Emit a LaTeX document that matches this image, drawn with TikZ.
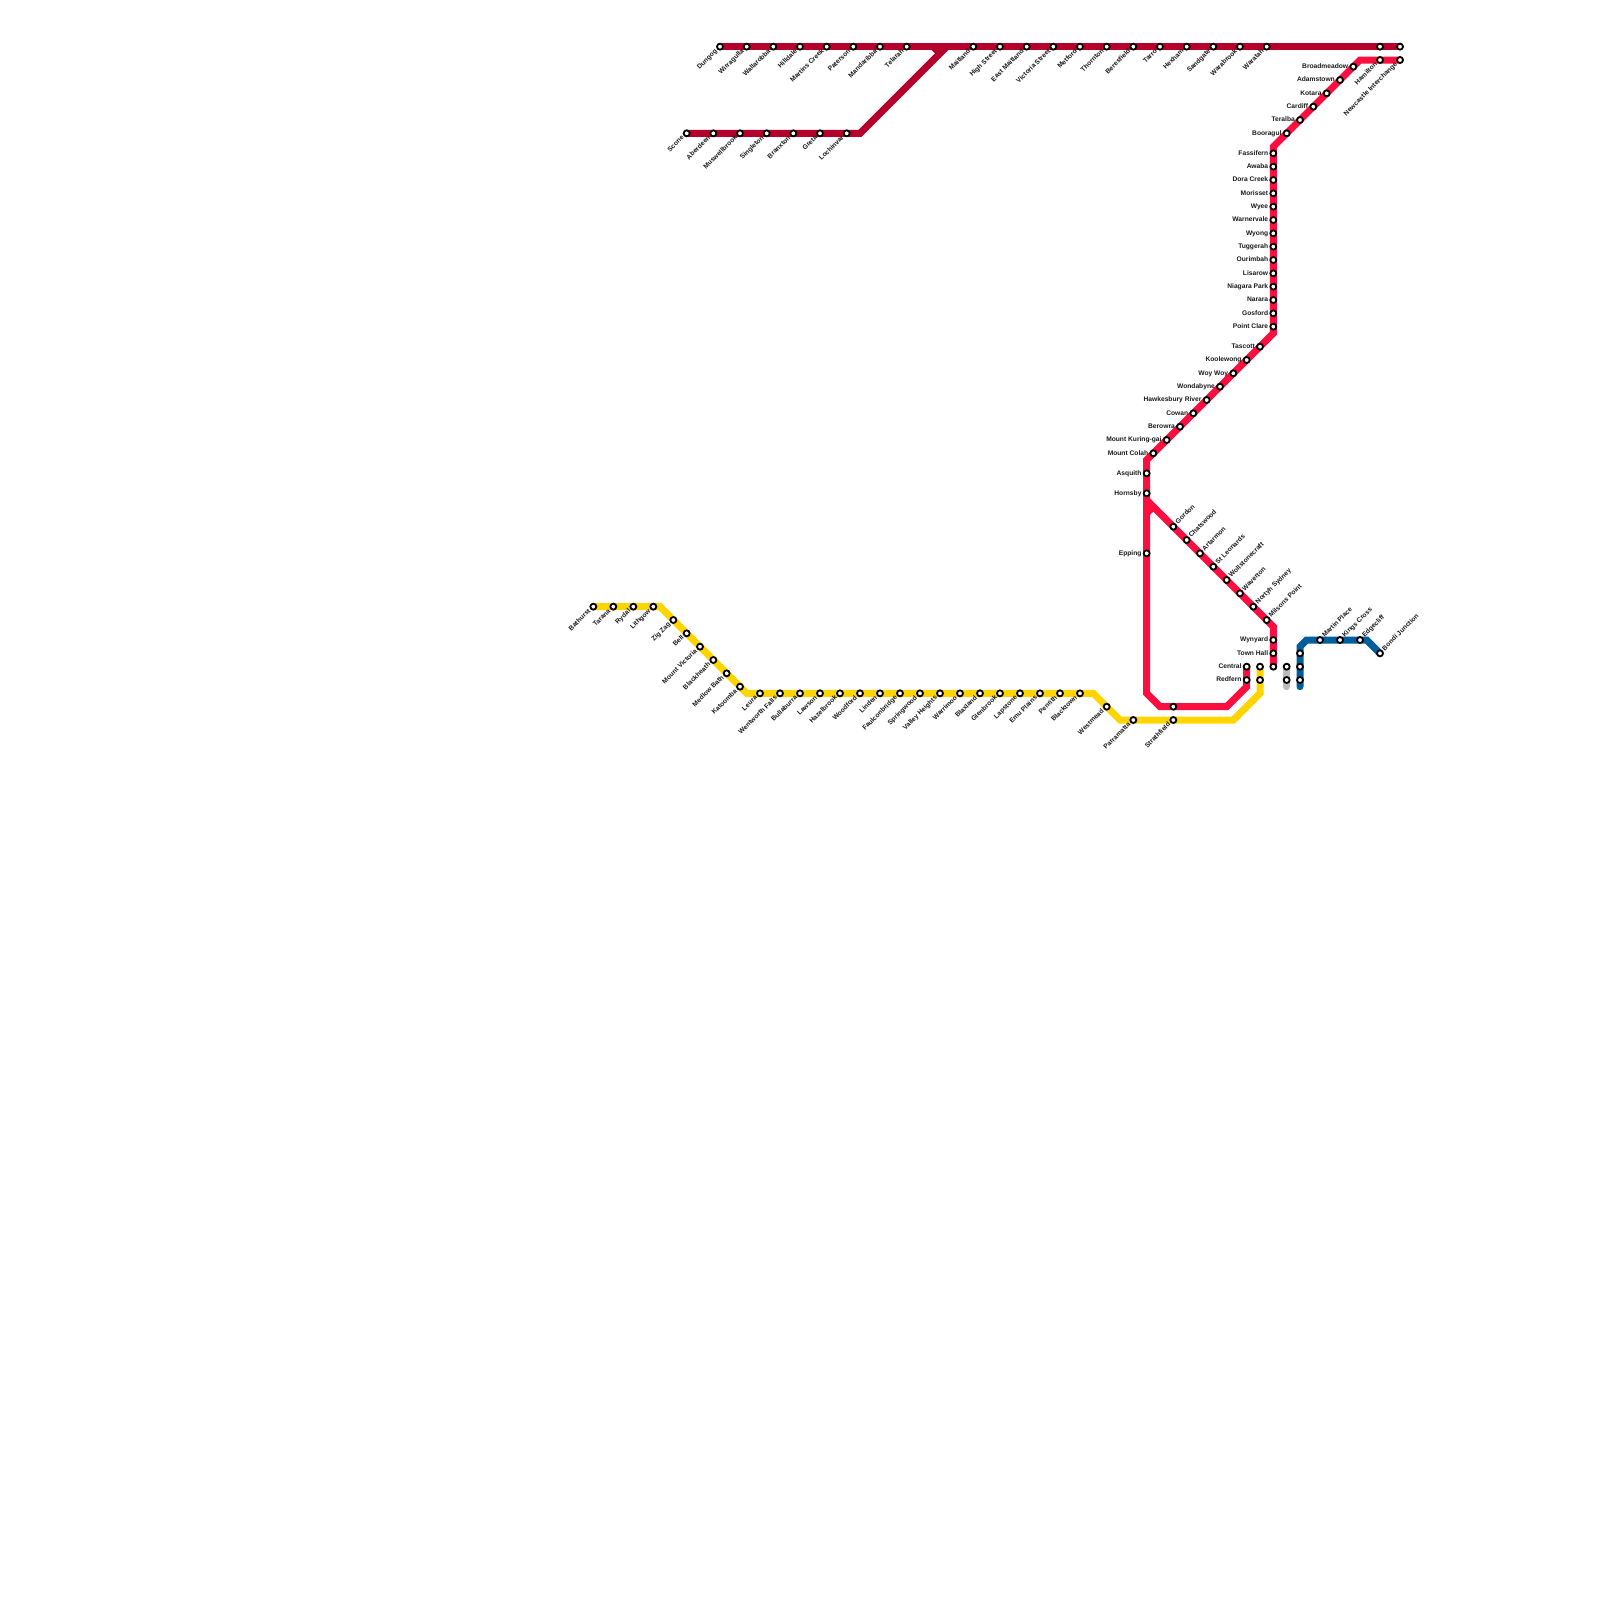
\documentclass[tikz,border=0pt]{standalone}
\usepackage{fontspec}
\setmainfont{Liberation Sans}
\usepackage{tikz}
\usetikzlibrary{backgrounds,calc}
\definecolor{hunter}{HTML}{B5002C}
\definecolor{coast}{HTML}{FB0F40}
\definecolor{blue}{HTML}{005E9C}
\definecolor{west}{HTML}{FFD500}
\definecolor{spare}{HTML}{BBBBBB}
\tikzset{
  stn/.style={circle,draw=black,fill=white,line width=1.8pt,minimum size=6pt,inner sep=0pt},
  txt/.style={font=\fontsize{6.67}{7}\selectfont\bfseries,text=black!90,inner sep=0pt,text height=5pt,text depth=1.5pt},
  lblsw/.style={txt,anchor=east,rotate=45},
  lblne/.style={txt,anchor=west,rotate=45},
  lblw/.style={txt,anchor=east},
  route/.style={line width=7pt,line cap=round}
}
\begin{document}
\begin{tikzpicture}[x=13.3333pt,y=-13.3333pt]
\useasboundingbox (0,0) rectangle (120,120);
% stations, labelled down-left
\foreach \n/\x/\y/\t in {dungog/54/3.5/Dungog,wirragulla/56/3.5/Wirragulla,wallarobba/58/3.5/Wallarobba,hilldale/60/3.5/Hilldale,
  martins/62/3.5/Martins Creek,paterson/64/3.5/Paterson,mandaribba/66/3.5/Mandaribba,telarah/68/3.5/Telarah,
  maitland/73/3.5/Maitland,highst/75/3.5/High Street,eastmait/77/3.5/East Maitland,victoria/79/3.5/Victoria Street,
  metford/81/3.5/Metford,thornton/83/3.5/Thornton,beresfield/85/3.5/Beresfield,tarro/87/3.5/Tarro,hexham/89/3.5/Hexham,
  sandgate/91/3.5/Sandgate,warabrook/93/3.5/Warabrook,waratah/95/3.5/Waratah,
  scone/51.5/10/Scone,aberdeen/53.5/10/Aberdeen,muswell/55.5/10/Muswellbrook,singleton/57.5/10/Singleton,
  branxton/59.5/10/Branxton,greta/61.5/10/Greta,lochinvar/63.5/10/Lochinvar,
  hamilton/103.5/4.5/Hamilton,newcastle/105/4.5/Newcastle Interchange,
  bathurst/44.5/45.5/Bathurst,tarana/46/45.5/Tarana,rydal/47.5/45.5/Rydal,lithgow/49/45.5/Lithgow,
  zigzag/50.5/46.5/Zig Zag,bell/51.5/47.5/Bell,mtvic/52.5/48.5/Mount Victoria,blackheath/53.5/49.5/Blackheath,
  medlow/54.5/50.5/Medlow Bath,katoomba/55.5/51.5/Katoomba,leura/57/52/Leura,wentworth/58.5/52/Wentworth Falls,
  bullaburra/60/52/Bullaburra,lawson/61.5/52/Lawson,hazelbrook/63/52/Hazelbrook,woodford/64.5/52/Woodford,
  linden/66/52/Linden,faulcon/67.5/52/Faulconbridge,springwood/69/52/Springwood,valley/70.5/52/Valley Heights,
  warrimoo/72/52/Warrimoo,blaxland/73.5/52/Blaxland,glenbrook/75/52/Glenbrook,lapstone/76.5/52/Lapstone,
  emu/78/52/Emu Plains,penrith/79.5/52/Penrith,blacktown/81/52/Blacktown,westmead/83/53/Westmead,
  parramatta/85/54/Parramatta,strathfield/88/54/Strathfield}{
  \node[stn] (\n) at (\x,\y) {};
  \node[lblsw] (\n-t) at ([shift={(-3.6pt,-3.6pt)}]\n.center) {\t};
}
% stations, labelled left
\foreach \n/\x/\y/\t in {fassifern/95.5/11.5/Fassifern,awaba/95.5/12.5/Awaba,dora/95.5/13.5/Dora Creek,morisset/95.5/14.5/Morisset,
  wyee/95.5/15.5/Wyee,warnervale/95.5/16.5/Warnervale,wyong/95.5/17.5/Wyong,tuggerah/95.5/18.5/Tuggerah,
  ourimbah/95.5/19.5/Ourimbah,lisarow/95.5/20.5/Lisarow,niagara/95.5/21.5/Niagara Park,narara/95.5/22.5/Narara,
  gosford/95.5/23.5/Gosford,pointclare/95.5/24.5/Point Clare,
  booragul/96.5/10/Booragul,teralba/97.5/9/Teralba,cardiff/98.5/8/Cardiff,kotara/99.5/7/Kotara,
  adamstown/100.5/6/Adamstown,broadmeadow/101.5/5/Broadmeadow,
  tascott/94.5/26/Tascott,koolewong/93.5/27/Koolewong,woywoy/92.5/28/Woy Woy,wondabyne/91.5/29/Wondabyne,
  hawkesbury/90.5/30/Hawkesbury River,cowan/89.5/31/Cowan,berowra/88.5/32/Berowra,kuring/87.5/33/Mount Kuring-gai,
  colah/86.5/34/Mount Colah,asquith/86/35.5/Asquith,hornsby/86/37/Hornsby,epping/86/41.5/Epping,
  wynyard/95.5/48/Wynyard,townhall/95.5/49/Town Hall,central/93.5/50/Central,redfern/93.5/51/Redfern}{
  \node[stn] (\n) at (\x,\y) {};
  \node[lblw] (\n-t) at ([xshift=-5pt]\n.center) {\t};
}
% stations, labelled up-right
\foreach \n/\x/\y/\t in {gordon/88/39.5/Gordon,chatswood/89/40.5/Chatswood,artarmon/90/41.5/Artarmon,stleonards/91/42.5/St Leonards,
  wollstone/92/43.5/Wollstonecraft,waverton/93/44.5/Waverton,northsyd/94/45.5/Nortyh Sydney,milsons/95/46.5/Milsons Point,
  martin/99/48/Martin Place,kings/100.5/48/Kings Cross,edgecliff/102/48/Edgecliff,bondi/103.5/49/Bondi Junction}{
  \node[stn] (\n) at (\x,\y) {};
  \node[lblne] (\n-t) at ([shift={(3.4pt,3.4pt)}]\n.center) {\t};
}
% stations with no label
\foreach \n/\x/\y in {hunterh/103.5/3.5,huntern/105/3.5,redstrath/88/53,cityw/94.5/50,cityr/94.5/51,cityc/95.5/50,
  grayc/96.5/50,grayr/96.5/51,bluet/97.5/49,bluec/97.5/50,bluer/97.5/51}
  \node[stn] (\n) at (\x,\y) {};
% bends
\foreach \n/\x/\y in {hbend/64.5/10,hjoin/71/3.5,hstuba/70/3.5,hstubb/70.5/4,
  cbenda/95.5/11,cbendb/102/4.5,cbendc/95.5/25,cbendd/86/34.5,cbende/86/52,cbendf/87/53,cbendg/92/53,cbendh/93.5/51.5,
  njoin/86/37.5,nstuba/86/38.5,nstubb/86.5/38,nbend/95.5/47,
  wbenda/49.5/45.5,wbendb/56/52,wbendc/82/52,wbendd/84/54,wbende/92.5/54,wbendf/94.5/52,
  grayend/96.5/51.5,blueend/97.5/51.5,bbenda/97.5/48.5,bbendb/98/48,bbendc/102.5/48}
  \coordinate (\n) at (\x,\y);
% routes
\begin{scope}[on background layer]
\draw[route,hunter] (dungog.center) -- (huntern.center);
\draw[route,hunter] (scone.center) -- (hbend) -- (hjoin);
\draw[line width=7pt,hunter] (hstuba) -- (hstubb);
\draw[route,coast] (newcastle.center) -- (cbendb) -- (cbenda) -- (cbendc) -- (cbendd) -- (cbende) -- (cbendf) -- (cbendg) -- (cbendh) -- (central.center);
\draw[route,coast] (njoin) -- (nbend) -- (cityc.center);
\draw[line width=7pt,coast] (nstuba) -- (nstubb);
\draw[route,west] (bathurst.center) -- (wbenda) -- (wbendb) -- (wbendc) -- (wbendd) -- (wbende) -- (wbendf) -- (cityw.center);
\draw[route,spare] (grayc.center) -- (grayend);
\draw[route,blue] (bondi.center) -- (bbendc) -- (bbendb) -- (bbenda) -- (blueend);
\end{scope}
\end{tikzpicture}
\end{document}
